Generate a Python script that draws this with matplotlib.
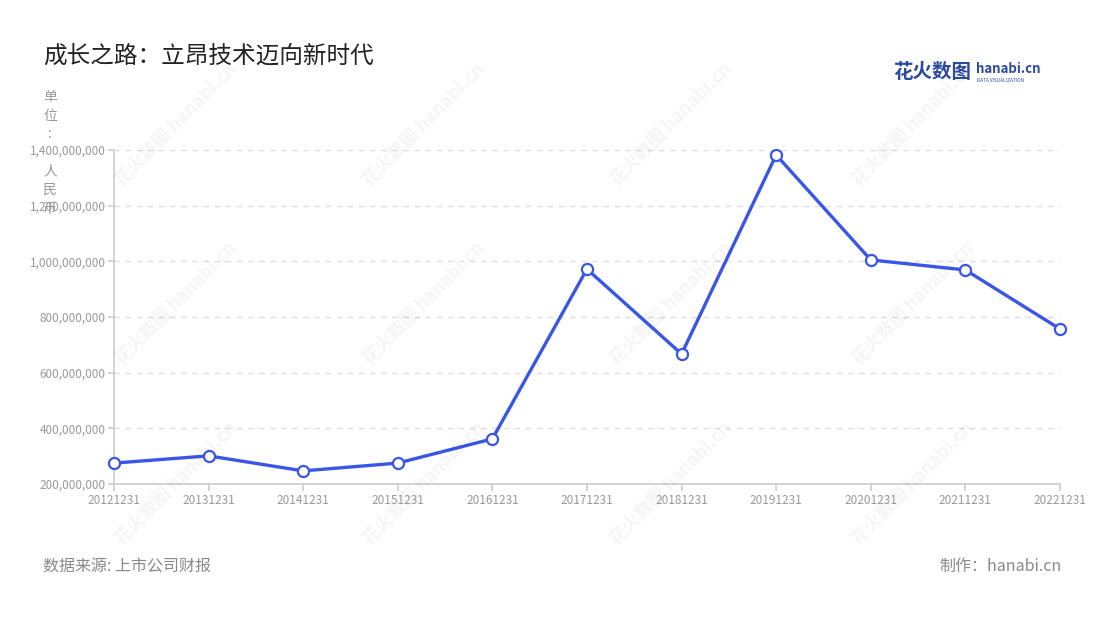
import matplotlib
matplotlib.use("Agg")
import matplotlib.pyplot as plt
from matplotlib.ticker import FuncFormatter

plt.rcParams["font.family"] = ["Noto Sans CJK SC", "DejaVu Sans"]

# ---------------------- 数据 ----------------------
dates = ["20121231", "20131231", "20141231", "20151231", "20161231", "20171231",
         "20181231", "20191231", "20201231", "20211231", "20221231"]
values = [275e6, 301e6, 247e6, 275e6, 362e6, 972e6,
          667e6, 1382e6, 1005e6, 969e6, 757e6]
y_ticks = [200e6, 400e6, 600e6, 800e6, 1000e6, 1200e6, 1400e6]

title = "成长之路：立昂技术迈向新时代"
source = "数据来源: 上市公司财报"
maker = "制作：hanabi.cn"

line_color = "#3a56e6"
grey = "#999999"

# ---------------------- 画图 ----------------------
fig = plt.figure(figsize=(11, 6.2), dpi=100)
ax = fig.add_axes([0.1036, 0.2194, 0.86, 0.5387])

# 水印
for wx in [0.16, 0.385, 0.61, 0.83]:
    for wy in [0.80, 0.51, 0.22]:
        fig.text(wx, wy, "花火数图 hanabi.cn", rotation=45, fontsize=13,
                 color="#000000", alpha=0.045, fontweight="bold",
                 ha="center", va="center", zorder=0)

x = list(range(len(dates)))
ax.plot(x, values, color=line_color, lw=2.4, marker="o", ms=8,
        mfc="white", mec=line_color, mew=1.6, zorder=3, clip_on=False)

ax.set_xlim(0, len(dates) - 1)
ax.set_ylim(200e6, 1400e6)
ax.set_xticks(x)
ax.set_xticklabels(dates)
ax.set_yticks(y_ticks)
ax.yaxis.set_major_formatter(FuncFormatter(lambda v, p: f"{int(v):,}"))

ax.grid(axis="y", color="#dddddd", linestyle=(0, (4, 4)), lw=1)
ax.set_axisbelow(True)
for s in ["top", "right"]:
    ax.spines[s].set_visible(False)
ax.spines["left"].set_color("#cccccc")
ax.spines["bottom"].set_color("#cccccc")
ax.spines["left"].set_linewidth(1.2)
ax.spines["bottom"].set_linewidth(1.2)
ax.tick_params(axis="x", colors="#cccccc", labelcolor=grey, labelsize=8.5,
               length=5, width=1.2, pad=2)
ax.tick_params(axis="y", colors="#cccccc", labelcolor=grey, labelsize=8.5,
               length=4, width=1.2, pad=2)
ax.set_facecolor("none")

# 单位（竖排，和原图一样压在刻度上）
fig.text(0.0455, 0.855, "单\n位\n:\n\n人\n民\n币", fontsize=10, color=grey,
         ha="center", va="top", linespacing=1.42)

# 标题
fig.text(0.039, 0.91, title, fontsize=17, color="#222222", ha="left", va="center")

# logo
fig.text(0.812, 0.883, "花火数图", fontsize=14, color="#2b4a9e", fontweight="bold",
         ha="left", va="center")
fig.text(0.887, 0.889, "hanabi.cn", fontsize=9.5, color="#2b4a9e", fontweight="bold",
         ha="left", va="center")
fig.text(0.888, 0.870, "DATA VISUALIZATION", fontsize=3.4, color="#2b4a9e",
         ha="left", va="center")

# 脚注
fig.text(0.039, 0.086, source, fontsize=11.5, color="#888890", ha="left", va="center")
fig.text(0.965, 0.086, maker, fontsize=11.5, color="#888890", ha="right", va="center")

fig.savefig("out.png", dpi=100, facecolor="white")
